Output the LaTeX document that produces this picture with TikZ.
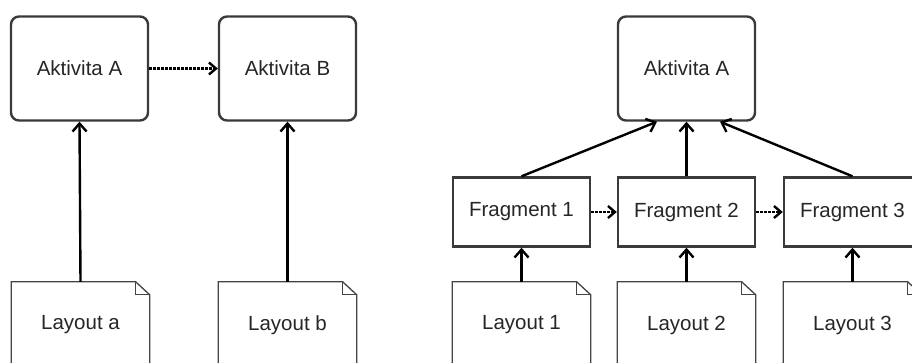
\documentclass[tikz,border=0pt]{standalone}
\usepackage{fontspec}
\setmainfont{Liberation Sans}
\usetikzlibrary{arrows.meta}

\definecolor{boxline}{HTML}{3A3A3A}
\definecolor{pageline}{HTML}{444444}

\tikzset{
  activity/.style={draw=boxline, line width=2.4pt, fill=white, rounded corners=8pt,
    minimum width=137pt, minimum height=104pt, inner sep=0pt},
  fragment/.style={draw=boxline, line width=2.4pt, fill=white,
    minimum width=137pt, minimum height=69pt, inner sep=0pt},
  layoutpage/.style={minimum width=138pt, minimum height=86pt, inner sep=0pt},
  flow/.style={draw=black, line width=2.4pt,
    -{Straight Barb[length=8pt,width=14pt,line width=2.4pt]}},
  seq/.style={draw=black, line width=2.4pt, dash pattern=on 2.4pt off 1.6pt,
    -{Straight Barb[length=7pt,width=12pt,line width=2.4pt]}},
  txt/.style={font=\fontsize{20.5pt}{24pt}\selectfont, text=black!85}
}

\begin{document}
\begin{tikzpicture}[x=1pt,y=-1pt]
  \useasboundingbox (0,0) rectangle (912,362);
  \fill[white] (0,0) rectangle (912,362);
  \clip (0,0) rectangle (912,362);

  % activities
  \node[activity, txt] (aA) at (79.5,68.5) {Aktivita A};
  \node[activity, txt] (aB) at (287.5,68.5) {Aktivita B};
  \node[activity, txt] (rA) at (686.5,68.5) {Aktivita A};

  % fragments
  \node[fragment, txt] (f1) at (521.5,212) {Fragment 1};
  \node[fragment, txt] (f2) at (686.5,212) {Fragment 2};
  \node[fragment, txt] (f3) at (852.5,212) {Fragment 3};

  % layout pages
  \node[layoutpage, txt] (la) at (80.5,325) {Layout a};
  \node[layoutpage, txt] (lb) at (287.5,325) {Layout b};
  \node[layoutpage, txt] (l1) at (521.5,325) {Layout 1};
  \node[layoutpage, txt] (l2) at (686.5,325) {Layout 2};
  \node[layoutpage, txt] (l3) at (852.5,325) {Layout 3};

  % page outlines with a folded top-right corner
  \foreach \p in {la,lb,l1,l2,l3}{
    \draw[pageline, line width=1.3pt, line join=miter]
      ([yshift=-20pt]\p.south west) -- (\p.north west)
      -- ([xshift=-14pt]\p.north east) -- ([yshift=-13pt]\p.north east)
      -- ([yshift=-20pt]\p.south east);
    \draw[pageline, line width=1.3pt]
      ([xshift=-14pt]\p.north east) -- ([xshift=-14pt,yshift=-13pt]\p.north east)
      -- ([yshift=-13pt]\p.north east);
  }

  % left part
  \draw[seq] (aA.east) -- (aB.west);
  \draw[flow] (la.north) -- (aA.south);
  \draw[flow] (lb.north) -- (aB.south);

  % right part
  \draw[flow] (f1.north) -- ([xshift=-29.5pt]rA.south);
  \draw[flow] (f2.north) -- (rA.south);
  \draw[flow] (f3.north) -- ([xshift=33.5pt]rA.south);
  \draw[seq] (f1.east) -- (f2.west);
  \draw[seq] (f2.east) -- (f3.west);
  \draw[flow] (l1.north) -- (f1.south);
  \draw[flow] (l2.north) -- (f2.south);
  \draw[flow] (l3.north) -- (f3.south);
\end{tikzpicture}
\end{document}
